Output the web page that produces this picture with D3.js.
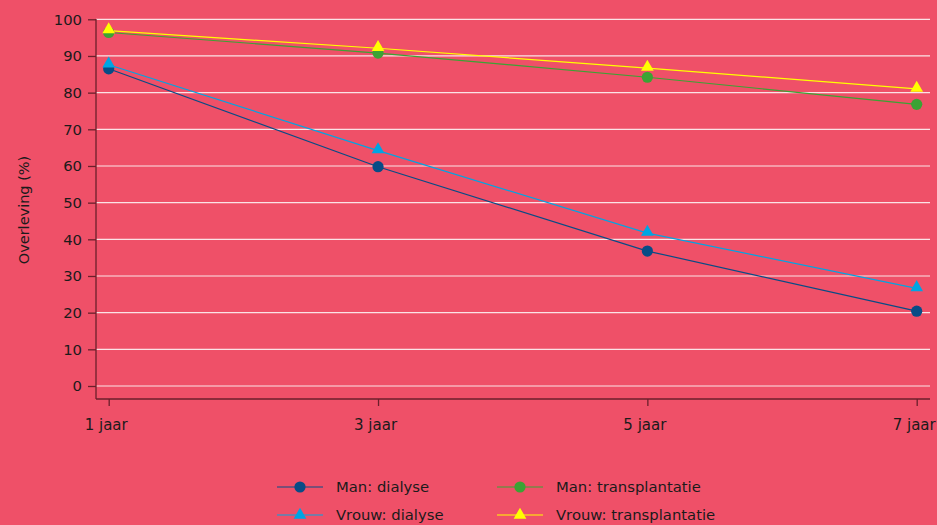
<!DOCTYPE html>
<html>
<head>
<meta charset="utf-8">
<script src="https://cdn.jsdelivr.net/npm/d3@7"></script>
<style>
  html, body { margin: 0; padding: 0; background: #ef5068; }
  svg { display: block; font-family: "DejaVu Sans", "Noto Sans", sans-serif; }
</style>
</head>
<body>
<svg id="chart" width="937" height="525"></svg>
<script>
// Survival (%) by time since start of treatment
const categories = ["1 jaar", "3 jaar", "5 jaar", "7 jaar"];
const manDialyse = [86.5, 59.8, 36.8, 20.4];
const vrouwDialyse = [87.6, 64.2, 41.7, 26.6];
const manTransplantatie = [96.4, 90.8, 84.2, 76.8];
const vrouwTransplantatie = [96.9, 92.1, 86.7, 81.0];
const yTicks = [0, 10, 20, 30, 40, 50, 60, 70, 80, 90, 100];

const series = [
  { name: "Man: dialyse", values: manDialyse, color: "#084c86", shape: "circle" },
  { name: "Vrouw: dialyse", values: vrouwDialyse, color: "#00a5e3", shape: "triangle" },
  { name: "Man: transplantatie", values: manTransplantatie, color: "#3ba334", shape: "circle" },
  { name: "Vrouw: transplantatie", values: vrouwTransplantatie, color: "#ffff00", shape: "triangle" }
];

const svg = d3.select("#chart");
const textColor = "#1b1b1b";
const axisColor = "#6b1f2b";
const fontFamily = "'DejaVu Sans', 'Noto Sans', sans-serif";

const x = d3.scalePoint().domain(categories).range([108.7, 916.7]);
const y = d3.scaleLinear().domain([0, 100]).range([386, 19.3]);

// Horizontal gridlines
svg.append("g")
  .selectAll("line")
  .data(yTicks)
  .join("line")
  .attr("x1", 96).attr("x2", 930)
  .attr("y1", d => y(d)).attr("y2", d => y(d))
  .attr("stroke", "#fbe3e6")
  .attr("stroke-width", 1.2);

// Y axis
const yAxis = svg.append("g")
  .attr("transform", "translate(96,0)")
  .call(d3.axisLeft(y).tickValues(yTicks).tickSize(8).tickPadding(6));
yAxis.select(".domain").attr("d", "M0,19V399").attr("stroke", axisColor).attr("stroke-width", 1.3);
yAxis.selectAll(".tick line").attr("stroke", axisColor).attr("stroke-width", 1.3);
yAxis.selectAll(".tick text")
  .attr("fill", textColor)
  .style("font-size", "14.8px")
  .style("font-family", fontFamily);

// X axis
const xAxis = svg.append("g")
  .attr("transform", "translate(0,399)")
  .call(d3.axisBottom(x).tickSize(7).tickPadding(13));
xAxis.select(".domain").attr("d", "M96,0H930").attr("stroke", axisColor).attr("stroke-width", 1.3);
xAxis.selectAll(".tick line").attr("stroke", axisColor).attr("stroke-width", 1.3);
xAxis.selectAll(".tick text")
  .attr("fill", textColor)
  .attr("x", -3)
  .style("font-size", "15px")
  .style("font-family", fontFamily);

// Y axis title
svg.append("text")
  .attr("transform", "translate(29,210) rotate(-90)")
  .attr("text-anchor", "middle")
  .attr("fill", textColor)
  .style("font-size", "14.5px")
  .text("Overleving (%)");

const line = d3.line()
  .x((d, i) => x(categories[i]))
  .y(d => y(d));

const triangle = d3.symbol().type(d3.symbolTriangle).size(70);

function drawMarker(g, shape, color, cx, cy) {
  if (shape === "circle") {
    g.append("circle").attr("cx", cx).attr("cy", cy).attr("r", 5.6).attr("fill", color);
  } else {
    g.append("path").attr("d", triangle()).attr("transform", `translate(${cx},${cy - 1})`).attr("fill", color);
  }
}

// Lines
const linesG = svg.append("g");
series.forEach(s => {
  linesG.append("path")
    .datum(s.values)
    .attr("d", line)
    .attr("fill", "none")
    .attr("stroke", s.color)
    .attr("stroke-width", 1.2);
});

// Markers
const markersG = svg.append("g");
series.forEach(s => {
  s.values.forEach((v, i) => drawMarker(markersG, s.shape, s.color, x(categories[i]), y(v)));
});

// Legend
const legendPos = [
  { lx: 277, ty: 487 }, { lx: 277, ty: 515 },
  { lx: 497, ty: 487 }, { lx: 497, ty: 515 }
];
const legendG = svg.append("g");
series.forEach((s, i) => {
  const p = legendPos[i];
  legendG.append("line")
    .attr("x1", p.lx).attr("x2", p.lx + 46)
    .attr("y1", p.ty).attr("y2", p.ty)
    .attr("stroke", s.color).attr("stroke-width", 1.2);
  drawMarker(legendG, s.shape, s.color, p.lx + 23, p.ty + (s.shape === "triangle" ? 1 : 0));
  legendG.append("text")
    .attr("x", p.lx + 59).attr("y", p.ty)
    .attr("dy", "0.35em")
    .attr("fill", textColor)
    .style("font-size", "14.8px")
    .text(s.name);
});
</script>
</body>
</html>
